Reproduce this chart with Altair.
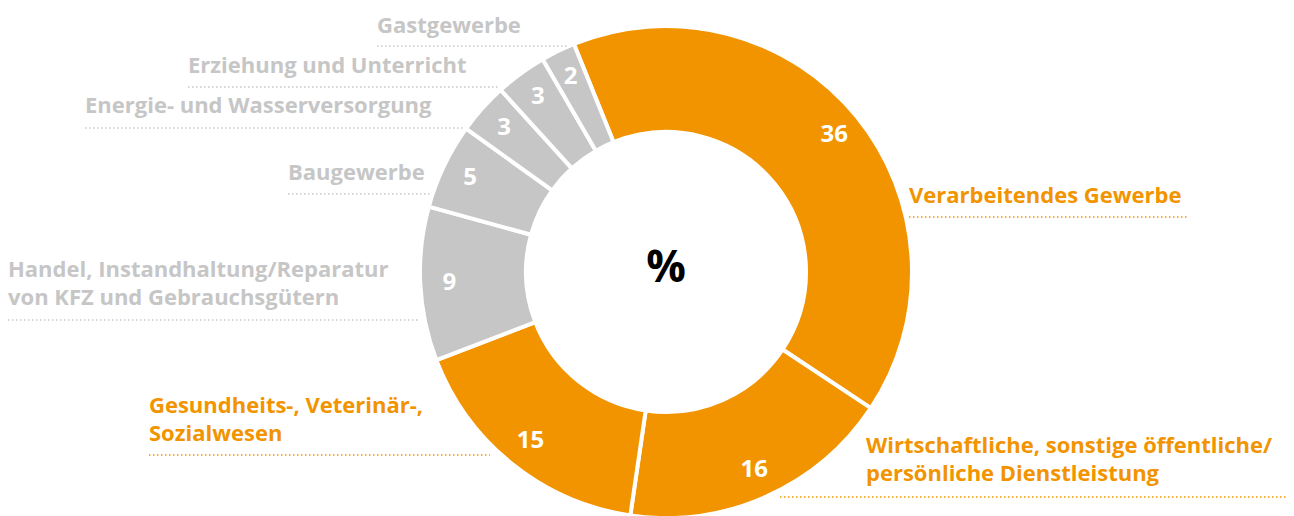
import math
import altair as alt
import pandas as pd

# ---- data ----
categories = [
    "Verarbeitendes Gewerbe",
    "Wirtschaftliche, sonstige öffentliche/persönliche Dienstleistung",
    "Gesundheits-, Veterinär-, Sozialwesen",
    "Handel, Instandhaltung/Reparatur von KFZ und Gebrauchsgütern",
    "Baugewerbe",
    "Energie- und Wasserversorgung",
    "Erziehung und Unterricht",
    "Gastgewerbe",
]
values = [36, 16, 15, 9, 5, 3, 3, 2]
highlight = [True, True, True, False, False, False, False, False]

# outer label annotations
label_text = [
    "Verarbeitendes Gewerbe",
    "Wirtschaftliche, sonstige öffentliche/\npersönliche Dienstleistung",
    "Gesundheits-, Veterinär-,\nSozialwesen",
    "Handel, Instandhaltung/Reparatur\nvon KFZ und Gebrauchsgütern",
    "Baugewerbe",
    "Energie- und Wasserversorgung",
    "Erziehung und Unterricht",
    "Gastgewerbe",
]

ORANGE = "#F29400"
GRAY = "#C6C6C6"
FONT = "Open Sans"
M = 8  # page margin
CX, CY = 666 - M, 272 - M
R_OUT, R_IN = 246, 140
START = math.radians(-22)

# annotation layout (page px)
lab_x = [909, 866, 149, 8, 288, 85, 188, 377]
lab_y = [203, 453, 413, 277, 180, 113, 73, 33]
line_x0 = [909, 780, 149, 8, 288, 85, 188, 377]
line_x1 = [1187, 1290, 490, 420, 430, 463, 500, 567]
line_y = [217, 497, 455, 320, 194, 128, 87, 46]

df = pd.DataFrame({
    "cat": categories,
    "value": values,
    "order": list(range(len(values))),
    "grp": ["hi" if h else "lo" for h in highlight],
})
ann = pd.DataFrame({
    "text": label_text,
    "grp": ["hi" if h else "lo" for h in highlight],
    "x": [v - M for v in lab_x],
    "y": [v - M for v in lab_y],
    "x0": [v - M for v in line_x0],
    "x1": [v - M for v in line_x1],
    "ly": [v - M for v in line_y],
})

color_scale = alt.Scale(domain=["hi", "lo"], range=[ORANGE, GRAY])
theta = alt.Theta("value:Q", stack=True,
                  scale=alt.Scale(range=[START, START + 2 * math.pi]))

base = alt.Chart(df).encode(
    theta=theta,
    order=alt.Order("order:Q"),
    x=alt.value(CX),
    y=alt.value(CY),
)

arcs = base.mark_arc(
    outerRadius=R_OUT, innerRadius=R_IN, stroke="white", strokeWidth=4
).encode(color=alt.Color("grp:N", scale=color_scale, legend=None))

nums = base.mark_text(
    radius=217, font=FONT, fontWeight="bold", fontSize=24,
    color="white", align="center", baseline="middle"
).encode(text=alt.Text("value:Q"))

pct = alt.Chart(pd.DataFrame({"t": ["%"]})).mark_text(
    font=FONT, fontWeight="bold", fontSize=44, color="black",
    align="center", baseline="middle"
).encode(text="t:N", x=alt.value(CX), y=alt.value(CY - 3))

labels = alt.Chart(ann).mark_text(
    font=FONT, fontWeight="bold", fontSize=22, align="left",
    baseline="alphabetic", lineBreak="\n", lineHeight=28
).encode(
    x=alt.X("x:Q", scale=None, axis=None),
    y=alt.Y("y:Q", scale=None, axis=None),
    text="text:N",
    color=alt.Color("grp:N", scale=color_scale, legend=None),
)

lines = alt.Chart(ann).mark_rule(strokeWidth=1.5, strokeDash=[1.5, 2.5]).encode(
    x=alt.X("x0:Q", scale=None, axis=None),
    x2="x1:Q",
    y=alt.Y("ly:Q", scale=None, axis=None),
    color=alt.Color("grp:N", scale=color_scale, legend=None),
)

chart = alt.layer(arcs, nums, pct, lines, labels).properties(
    width=1278, height=508,
    autosize=alt.AutoSizeParams(type="none"),
    padding=0,
    view=alt.ViewBackground(stroke="transparent", strokeWidth=0),
).configure_view(stroke="transparent", strokeWidth=0).configure(background="white")

chart.save("out.html", embed_options={"renderer": "svg", "actions": False})
